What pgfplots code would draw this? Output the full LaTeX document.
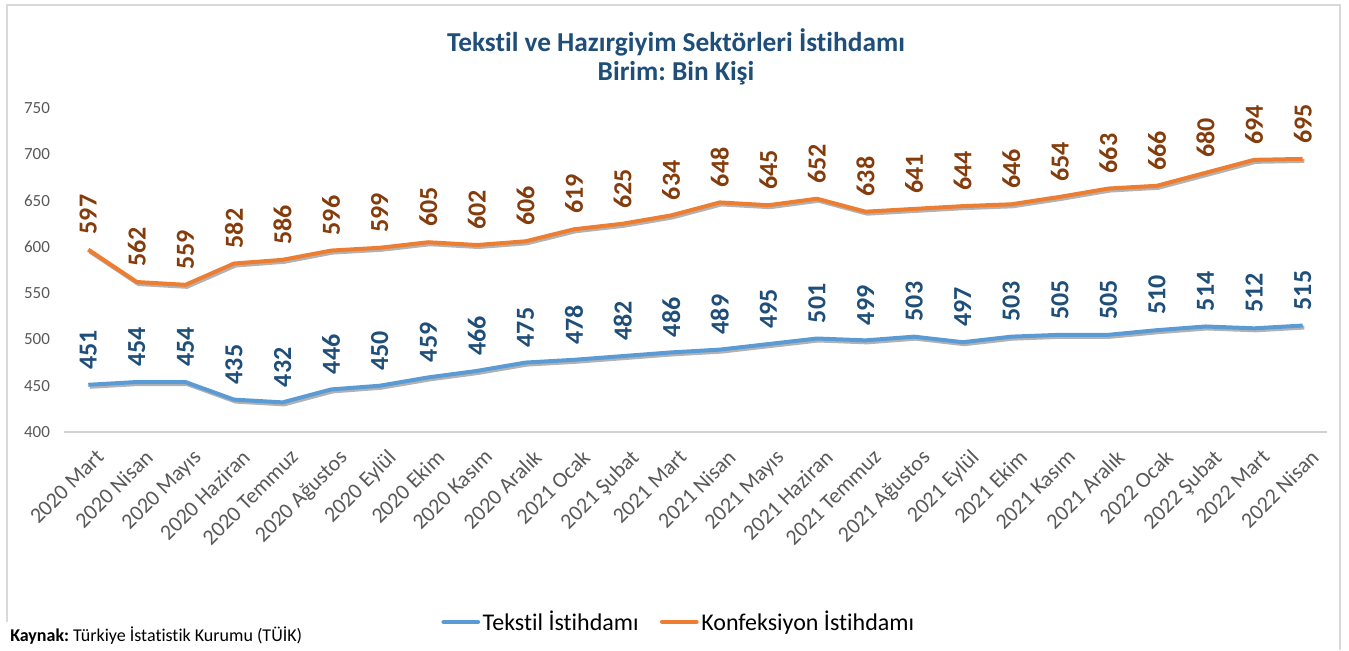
\documentclass[border=0pt]{standalone}
\usepackage{fontspec}
\setmainfont{Carlito}[Ligatures=CommonOff]
\usepackage{pgfplots}
\pgfplotsset{compat=1.18}
\definecolor{tblue}{HTML}{5B9BD5}
\definecolor{torange}{HTML}{ED7D31}
\definecolor{lblue}{HTML}{1F4E79}
\definecolor{lorange}{HTML}{843C0C}
\definecolor{titlec}{HTML}{1F4E79}
\definecolor{tickc}{HTML}{595959}
\begin{document}
\frenchspacing
\begin{tikzpicture}
\useasboundingbox (0,0) rectangle (1011.75pt,-487.5pt);
\draw[gray!30, line width=0.8pt] (5.25pt,-466.5pt) -- (5.25pt,-3.75pt) -- (1005pt,-3.75pt) -- (1005pt,-487.5pt);
\node[font=\fontsize{20.5}{24}\selectfont\bfseries, text=titlec] at (507pt,-31.5pt) {Tekstil ve Hazırgiyim Sektörleri İstihdamı};
\node[font=\fontsize{20.5}{24}\selectfont\bfseries, text=titlec] at (507pt,-54.75pt) {Birim: Bin Kişi};
\node[anchor=base west, font=\fontsize{13.5}{15}\selectfont, text=black, inner sep=0pt] at (7.5pt,-481pt) {\textbf{Kaynak:} Türkiye İstatistik Kurumu (TÜİK)};
\begin{axis}[
  at={(48pt,-324pt)}, anchor=south west,
  scale only axis, width=947.25pt, height=243pt,
  xmin=-0.5, xmax=25.5, ymin=400, ymax=750,
  ytick={400,450,...,750},
  xtick={0,...,25},
  xticklabels={2020 Mart,2020 Nisan,2020 Mayıs,2020 Haziran,2020 Temmuz,2020 Ağustos,2020 Eylül,2020 Ekim,2020 Kasım,2020 Aralık,2021 Ocak,2021 Şubat,2021 Mart,2021 Nisan,2021 Mayıs,2021 Haziran,2021 Temmuz,2021 Ağustos,2021 Eylül,2021 Ekim,2021 Kasım,2021 Aralık,2022 Ocak,2022 Şubat,2022 Mart,2022 Nisan},
  axis x line*=bottom, axis y line*=left,
  x axis line style={draw=gray!35, line width=0.8pt, -},
  y axis line style={draw=none},
  major tick length=0pt,
  /pgf/number format/assume math mode=true,
  yticklabel style={font=\fontsize{12.75}{14}\selectfont, text=tickc, xshift=-7pt},
  xticklabel style={font=\fontsize{16.5}{18}\selectfont, text=tickc, rotate=45, anchor=north east, inner sep=1pt, xshift=-4pt, yshift=-11pt},
  clip=false,
  legend columns=2,
  legend style={at={(0.487,-0.586)}, anchor=center, draw=none, fill=none, inner sep=0pt,
    font=\fontsize{18}{21}\selectfont,
    /tikz/every even column/.append style={column sep=14pt}},
  legend image code/.code={\draw[#1, line width=3pt, line cap=round] (0pt,0pt) -- (26pt,0pt);},
  nodes near coords,
  nodes near coords style={rotate=90, anchor=west, inner xsep=10pt, inner ysep=0pt, font=\fontsize{19.5}{22}\selectfont\bfseries},
]
\addplot[black, opacity=0.3, line width=3pt, forget plot, shift={(1.2pt,-1.5pt)}, nodes near coords=\empty] coordinates {
(0,451)(1,454)(2,454)(3,435)(4,432)(5,446)(6,450)(7,459)(8,466)(9,475)(10,478)(11,482)(12,486)(13,489)(14,495)(15,501)(16,499)(17,503)(18,497)(19,503)(20,505)(21,505)(22,510)(23,514)(24,512)(25,515)};
\addplot[black, opacity=0.3, line width=3pt, forget plot, shift={(1.2pt,-1.5pt)}, nodes near coords=\empty] coordinates {
(0,597)(1,562)(2,559)(3,582)(4,586)(5,596)(6,599)(7,605)(8,602)(9,606)(10,619)(11,625)(12,634)(13,648)(14,645)(15,652)(16,638)(17,641)(18,644)(19,646)(20,654)(21,663)(22,666)(23,680)(24,694)(25,695)};
\addplot[tblue, line width=3pt, line join=round, every node near coord/.append style={text=lblue}] coordinates {
(0,451)(1,454)(2,454)(3,435)(4,432)(5,446)(6,450)(7,459)(8,466)(9,475)(10,478)(11,482)(12,486)(13,489)(14,495)(15,501)(16,499)(17,503)(18,497)(19,503)(20,505)(21,505)(22,510)(23,514)(24,512)(25,515)};
\addlegendentry{Tekstil İstihdamı}
\addplot[torange, line width=3pt, line join=round, every node near coord/.append style={text=lorange}] coordinates {
(0,597)(1,562)(2,559)(3,582)(4,586)(5,596)(6,599)(7,605)(8,602)(9,606)(10,619)(11,625)(12,634)(13,648)(14,645)(15,652)(16,638)(17,641)(18,644)(19,646)(20,654)(21,663)(22,666)(23,680)(24,694)(25,695)};
\addlegendentry{Konfeksiyon İstihdamı}
\end{axis}
\end{tikzpicture}
\end{document}
